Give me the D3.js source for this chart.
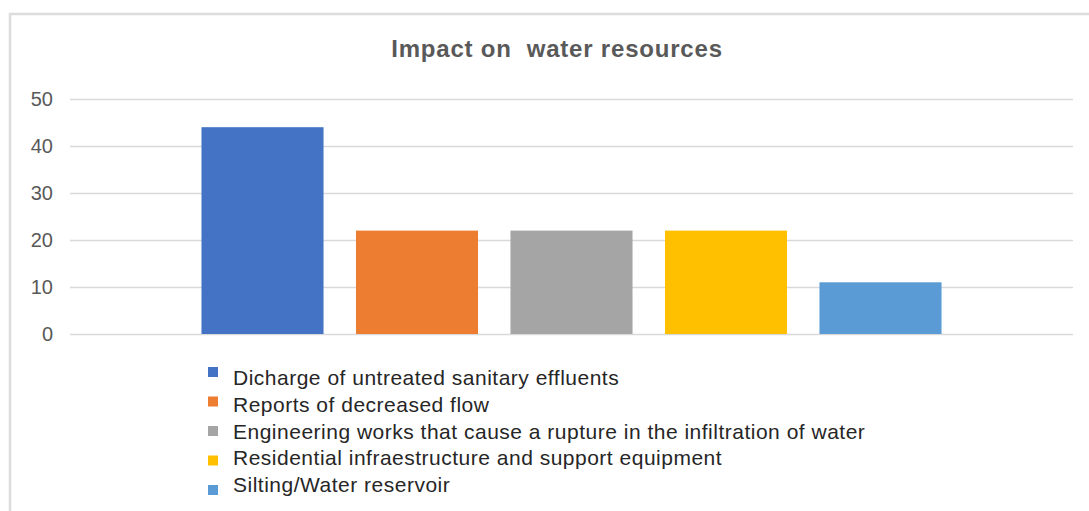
<!DOCTYPE html>
<html>
<head>
<meta charset="utf-8">
<script src="https://cdn.jsdelivr.net/npm/d3@7"></script>
<style>
  body { margin: 0; background: #fff; }
  text { font-family: "Liberation Sans", Arial, sans-serif; }
</style>
</head>
<body>
<div id="chart"></div>
<script>
const categories = [
    "Dicharge of untreated sanitary effluents",
    "Reports of decreased flow",
    "Engineering works that cause a rupture in the infiltration of water",
    "Residential infraestructure and support equipment",
    "Silting/Water reservoir"
]
const values = [44, 22, 22, 22, 11]
const yTicks = [0, 10, 20, 30, 40, 50]
const colors = ["#4472C4", "#ED7D31", "#A5A5A5", "#FFC000", "#5B9BD5"]
const title = "Impact on\u00a0 water resources"

const W = 1089, H = 511

const svg = d3.select("#chart")
              .append("svg")
              .attr("width", W)
              .attr("height", H)

// chart frame, runs off the right and bottom edge like the source
svg.append("rect")
   .attr("x", 10)
   .attr("y", 14)
   .attr("width", 1100)
   .attr("height", 520)
   .attr("fill", "#fff")
   .attr("stroke", "#dcdcdc")
   .attr("stroke-width", 2.5)

svg.append("text")
   .attr("x", 557)
   .attr("y", 57)
   .attr("text-anchor", "middle")
   .attr("font-size", 24)
   .attr("font-weight", "bold")
   .attr("letter-spacing", 0.8)
   .attr("fill", "#595959")
   .text(title)

const x = d3.scaleBand()
            .domain(categories)
            .range([70, 1073])
            .paddingInner(0.21)
            .paddingOuter(0.851)

const y = d3.scaleLinear()
            .domain([0, 50])
            .range([334, 99])

// gridlines + labels
const yAxis = svg.append("g")
                 .attr("transform", "translate(70,0)")
                 .call(d3.axisLeft(y).tickValues(yTicks).tickSize(-1003).tickPadding(17))

yAxis.select(".domain").remove()
yAxis.selectAll(".tick line")
     .attr("stroke", "#d9d9d9")
     .attr("stroke-width", 1.5)
yAxis.selectAll(".tick text")
     .attr("font-size", 20)
     .attr("fill", "#595959")
     .attr("font-family", "Liberation Sans, Arial, sans-serif")

svg.append("g")
   .selectAll("rect")
   .data(categories)
   .join("rect")
   .attr("x", d => x(d))
   .attr("y", (d, i) => y(values[i]))
   .attr("width", x.bandwidth())
   .attr("height", (d, i) => y(0) - y(values[i]))
   .attr("fill", (d, i) => colors[i])

// legend: swatches and labels step a little differently in the source
const legend = svg.append("g")

legend.selectAll("rect")
      .data(categories)
      .join("rect")
      .attr("x", 208)
      .attr("y", (d, i) => 367 + i * 29.5)
      .attr("width", 10)
      .attr("height", 10)
      .attr("fill", (d, i) => colors[i])

legend.selectAll("text")
      .data(categories)
      .join("text")
      .attr("x", 233)
      .attr("y", (d, i) => 385 + i * 26.8)
      .attr("font-size", 21)
      .attr("letter-spacing", 0.5)
      .attr("fill", "#262626")
      .text(d => d)
</script>
</body>
</html>
